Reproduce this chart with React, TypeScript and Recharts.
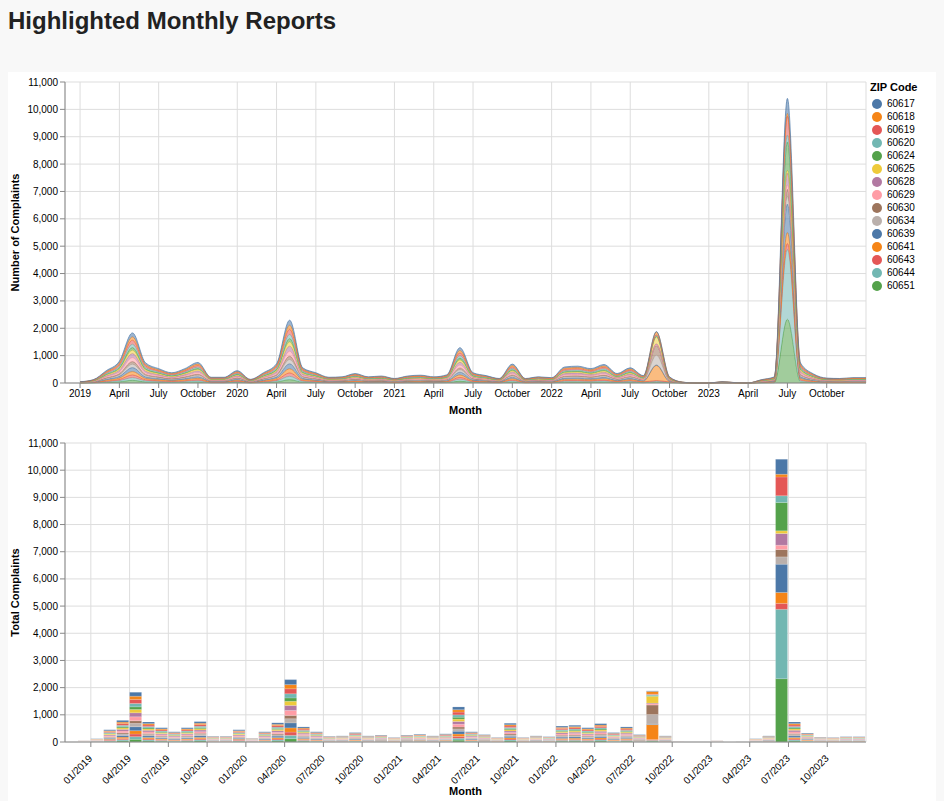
import React from "react";
import { AreaChart, Area, BarChart, Bar, XAxis, YAxis, CartesianGrid } from "recharts";

// month index -1 = 12/2018 ... 59 = 12/2023
const MONTH_IDX = [-1,0,1,2,3,4,5,6,7,8,9,10,11,12,13,14,15,16,17,18,19,20,21,22,23,24,25,26,27,28,29,30,31,32,33,34,35,36,37,38,39,40,41,42,43,44,45,46,47,48,49,50,51,52,53,54,55,56,57,58,59];
const ZIPS = ["60617","60618","60619","60620","60624","60625","60628","60629","60630","60634","60639","60641","60643","60644","60651"];
const COLORS = ["#4c78a8","#f58518","#e45756","#72b7b2","#54a24b","#eeca3b","#b279a2","#ff9da6","#9d755d","#bab0ac","#4c78a8","#f58518","#e45756","#72b7b2","#54a24b"];
// per-zip profiles (monthly values); index 44 = 08/2022, 54 = 06/2023 overridden below
const PROFILE_LOW = [2,6,24,42,98,39,28,20,28,40,11,11,24,7,20,38,122,30,20,11,12,18,12,14,9,14,15,12,16,69,20,14,9,37,9,12,10,31,33,28,36,18,30,14,0,12,2,0,0,2,1,0,6,12,0,39,18,10,9,10,10];
const PROFILE_MID = [3,8,30,53,122,49,35,25,35,50,14,14,30,9,25,47,153,37,25,14,15,23,15,17,11,17,19,15,20,86,25,18,11,46,11,15,13,39,41,35,45,23,37,18,0,15,2,0,0,3,1,0,8,15,0,49,22,12,11,13,13];
const PROFILE_HIGH = [4,10,36,64,146,59,42,30,42,60,17,17,36,11,30,56,184,44,30,17,18,28,18,20,13,20,23,18,24,103,30,22,13,55,13,18,16,47,49,42,54,28,44,22,0,18,2,0,0,4,1,0,10,18,0,59,26,14,13,16,16];
const ZIP_PROFILE = ["H","M","H","M","L","M","H","H","L","M","H","M","L","L","L"];
const AUG_2022 = [20,100,20,40,20,250,30,40,350,350,20,550,30,30,30];
const JUN_2023 = [550,100,690,250,1040,100,430,160,270,270,1040,400,220,2550,2330];

const TICKS = [0,3,6,9,12,15,18,21,24,27,30,33,36,39,42,45,48,51,54,57];
const QNAMES = ["", "April", "July", "October"];

const rows = MONTH_IDX.map((m, i) => {
  const r: any = { m, top: m + 1, mid: m + 0.5 };
  ZIPS.forEach((z, j) => {
    const p = ZIP_PROFILE[j] === "H" ? PROFILE_HIGH : ZIP_PROFILE[j] === "M" ? PROFILE_MID : PROFILE_LOW;
    r[z] = i === 44 ? AUG_2022[j] : i === 54 ? JUN_2023[j] : p[i];
  });
  return r;
});

const yTicks = [0,1000,2000,3000,4000,5000,6000,7000,8000,9000,10000,11000];
const fmt = (v: number) => v.toLocaleString("en-US");
const font = "Liberation Sans, Arial, sans-serif";
const tickStyle = { fontSize: 10, fill: "#000", fontFamily: font };
const order = [...ZIPS.keys()].reverse();

const BottomTick = (props: any) => {
  const { x, y, payload } = props;
  const v = payload.value;
  const mo = String((v % 12) + 1).padStart(2, "0");
  const yr = 2019 + Math.floor(v / 12);
  return (
    <text x={x} y={y + 8} transform={`rotate(-45 ${x} ${y + 8})`} textAnchor="end" style={tickStyle} dy={3}>{`${mo}/${yr}`}</text>
  );
};

export default function App() {
  return (
    <div style={{ position: "absolute", left: 0, top: 0, width: 944, height: 801, background: "#f8f8f8", fontFamily: font }}>
      <div style={{ position: "absolute", left: 8, top: 7, fontSize: 24, fontWeight: "bold", color: "#222" }}>Highlighted Monthly Reports</div>
      <div style={{ position: "absolute", left: 8, top: 72, width: 928, height: 729, background: "#fff" }} />
      <div style={{ position: "absolute", left: 0, top: 72 }}>
        <AreaChart width={870} height={342} data={rows} margin={{ top: 10, right: 4, left: 15, bottom: 0 }}>
          <CartesianGrid stroke="#ddd" />
          <XAxis dataKey="top" type="number" domain={[-1.15, 60]} ticks={TICKS} allowDataOverflow height={31}
            tickFormatter={(v: number) => (v % 12 === 0 ? String(2019 + v / 12) : QNAMES[(v % 12) / 3])}
            tick={tickStyle} stroke="#888" tickSize={5}
            label={{ value: "Month", position: "insideBottom", offset: 0, style: { fontSize: 11, fontWeight: "bold", fill: "#000" } }} />
          <YAxis domain={[0, 11000]} ticks={yTicks} tickFormatter={fmt} tick={tickStyle} stroke="#888" width={50} tickSize={5}
            label={{ value: "Number of Complaints", angle: -90, position: "insideLeft", offset: 0, style: { fontSize: 11, fontWeight: "bold", fill: "#000", textAnchor: "middle" } }} />
          {order.map((j) => (
            <Area key={ZIPS[j]} dataKey={ZIPS[j]} stackId="a" type="monotone" fill={COLORS[j]} fillOpacity={0.55} stroke={COLORS[j]} strokeWidth={1} strokeOpacity={0.7} isAnimationActive={false} />
          ))}
        </AreaChart>
      </div>
      <div style={{ position: "absolute", left: 0, top: 433 }}>
        <BarChart width={870} height={362} data={rows} margin={{ top: 10, right: 4, left: 15, bottom: 0 }} barCategoryGap={0}>
          <CartesianGrid stroke="#ddd" />
          <XAxis dataKey="mid" type="number" domain={[-2, 60]} ticks={TICKS} allowDataOverflow height={53}
            tick={<BottomTick />} stroke="#888" tickSize={5}
            label={{ value: "Month", position: "insideBottom", offset: 0, style: { fontSize: 11, fontWeight: "bold", fill: "#000" } }} />
          <YAxis domain={[0, 11000]} ticks={yTicks} tickFormatter={fmt} tick={tickStyle} stroke="#888" width={50} tickSize={5}
            label={{ value: "Total Complaints", angle: -90, position: "insideLeft", offset: 0, style: { fontSize: 11, fontWeight: "bold", fill: "#000", textAnchor: "middle" } }} />
          {order.map((j) => (
            <Bar key={ZIPS[j]} dataKey={ZIPS[j]} stackId="b" fill={COLORS[j]} stroke="#fff" strokeWidth={0.25} strokeOpacity={0.6} barSize={12} isAnimationActive={false} />
          ))}
        </BarChart>
      </div>
      <div style={{ position: "absolute", left: 870, top: 81 }}>
        <div style={{ fontSize: 11, fontWeight: "bold", marginBottom: 4 }}>ZIP Code</div>
        {ZIPS.map((z, j) => (
          <div key={z} style={{ display: "flex", alignItems: "center", height: 13, fontSize: 10 }}>
            <span style={{ width: 10, height: 10, borderRadius: 5, background: COLORS[j], marginRight: 5, marginLeft: 2 }} />
            {z}
          </div>
        ))}
      </div>
    </div>
  );
}
